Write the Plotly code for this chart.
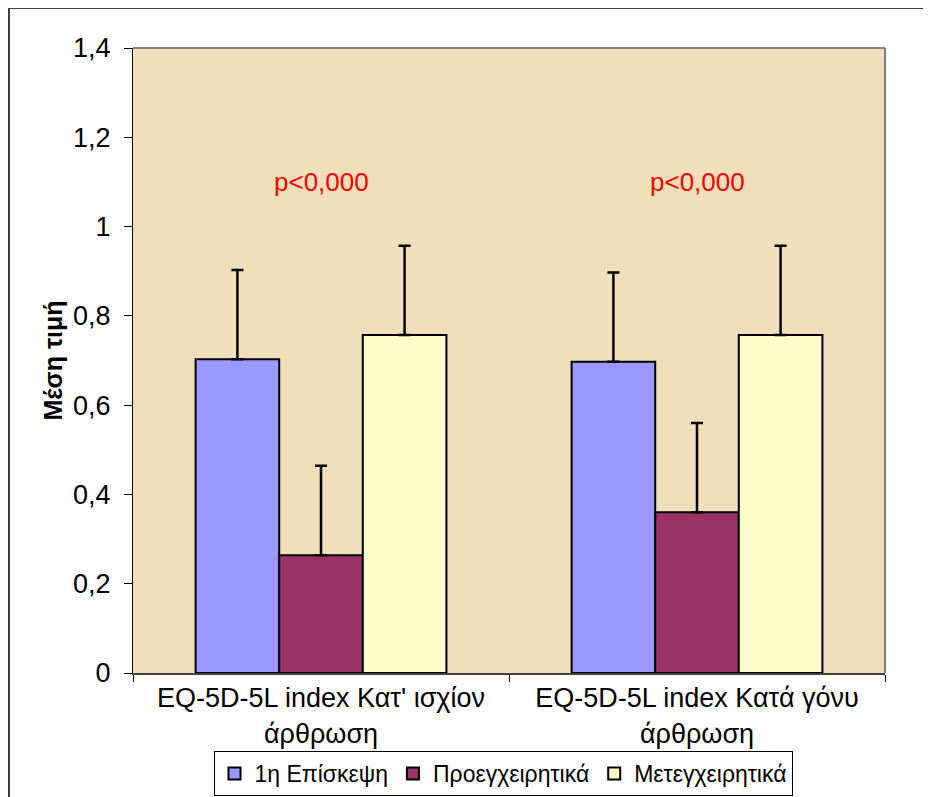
import plotly.graph_objects as go

categories = ["EQ-5D-5L index Κατ' ισχίον<br>άρθρωση", "EQ-5D-5L index Κατά γόνυ<br>άρθρωση"]
series_names = ["1η Επίσκεψη", "Προεγχειρητικά", "Μετεγχειρητικά"]
visit1 = [0.703, 0.697]
preop = [0.264, 0.360]
postop = [0.757, 0.757]
err_visit1 = [0.200, 0.200]
err_preop = [0.200, 0.200]
err_postop = [0.200, 0.200]
colors = ["#9999FF", "#993366", "#FFFFCC"]
ytick_vals = [0, 0.2, 0.4, 0.6, 0.8, 1.0, 1.2, 1.4]
ytick_text = ["0", "0,2", "0,4", "0,6", "0,8", "1", "1,2", "1,4"]
pvalue_text = ["p<0,000", "p<0,000"]
pvalue_y = 1.1

FONT = "Liberation Sans, Arial, sans-serif"

fig = go.Figure()
for name, vals, errs, col in zip(series_names, [visit1, preop, postop],
                                 [err_visit1, err_preop, err_postop], colors):
    fig.add_trace(go.Bar(
        x=categories, y=vals, name=name,
        marker=dict(color=col, line=dict(color="black", width=2)),
        error_y=dict(type="data", array=errs, arrayminus=[0] * len(errs), symmetric=False,
                     color="black", thickness=2.5, width=6),
    ))

for cat, txt in zip(categories, pvalue_text):
    fig.add_annotation(x=cat, y=pvalue_y, text=txt, showarrow=False,
                       font=dict(color="#FF0000", size=26, family=FONT))

# figure is placed with an 8px page margin
W, H = 923, 789
L, R, T, B = 125, 46, 40, 124
pw, ph = W - L - R, H - T - B

def px_x(p):
    return (p - L) / pw

def px_y(p):
    return (H - B - p) / ph

# outer chart border (right and bottom fall outside the picture)
fig.add_shape(type="rect", xref="paper", yref="paper",
              x0=px_x(1), x1=px_x(940), y0=px_y(810), y1=px_y(0),
              line=dict(color="#404040", width=2), fillcolor="rgba(0,0,0,0)", layer="above")
# plot area border (gray top/right)
fig.add_shape(type="line", xref="paper", yref="paper", x0=0, x1=1, y0=1, y1=1,
              line=dict(color="#808080", width=2))
fig.add_shape(type="line", xref="paper", yref="paper", x0=1, x1=1, y0=0, y1=1,
              line=dict(color="#808080", width=2))

fig.update_layout(
    width=W, height=H,
    margin=dict(l=L, r=R, t=T, b=B, autoexpand=False),
    paper_bgcolor="white",
    plot_bgcolor="#F0DFBA",
    barmode="group",
    bargap=0.333,
    bargroupgap=0,
    font=dict(family=FONT, size=25, color="black"),
    showlegend=True,
    legend=dict(orientation="h", x=px_x(495), xanchor="center", y=px_y(743), yanchor="top",
                bordercolor="black", borderwidth=1, bgcolor="white",
                font=dict(size=23, family=FONT),
                tracegroupgap=0, itemwidth=30),
    xaxis=dict(showgrid=False, ticks="outside", tickson="boundaries", ticklen=7,
               tickcolor="black", showline=True, linecolor="#404040", linewidth=2,
               tickfont=dict(size=27, family=FONT), mirror=False, automargin=False),
    yaxis=dict(range=[0, 1.4], tickvals=ytick_vals, ticktext=ytick_text, showgrid=False,
               ticks="outside", ticklen=8, tickcolor="black", showline=True,
               linecolor="black", linewidth=1, zeroline=False,
               tickfont=dict(size=27, family=FONT), ticklabelstandoff=8, automargin=False,
               title=dict(text="<b>Μέση τιμή</b>", font=dict(size=25, family=FONT), standoff=3)),
)

fig.write_html("out.html")
